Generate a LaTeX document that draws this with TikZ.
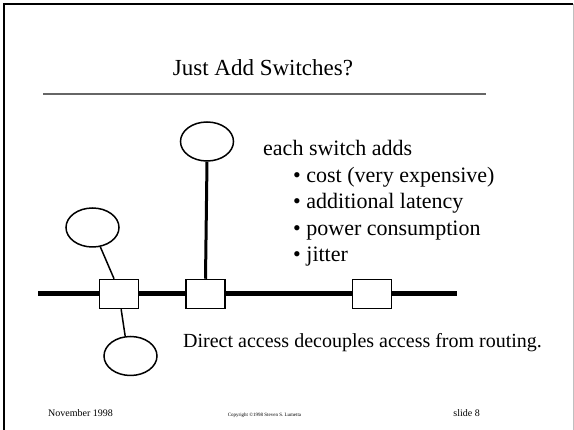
\documentclass[tikz,border=0pt]{standalone}
\usepackage{fontspec}
\setmainfont{Liberation Serif}
\usetikzlibrary{shapes.geometric}
\begin{document}
\begin{tikzpicture}[x=1pt,y=-1pt,
  host/.style={draw,ellipse,line width=1.5pt,minimum width=53pt,minimum height=39pt,inner sep=0pt},
  swbox/.style={draw,rectangle,line width=1.5pt,minimum width=39pt,minimum height=29pt,inner sep=0pt,fill=white},
  bus/.style={line width=5pt},
  txt/.style={anchor=base west,inner sep=0pt,font=\fontsize{22}{26}\selectfont}]
\useasboundingbox (0,0) rectangle (574,430);
% frame
\draw[line width=2pt] (4,431) -- (4,4) -- (573,4);
\draw[line width=1pt,gray!50] (573,4) -- (573,431);
% title
\node[anchor=base,inner sep=0pt,font=\fontsize{23}{27}\selectfont] (title) at (263,76) {Just Add Switches?};
\draw[line width=1.4pt,black!60] (43,94) -- (486,94);
% network
\coordinate (busL) at (38,294);
\coordinate (busR) at (457,294);
\node[swbox] (sw1) at (119,294) {};
\node[swbox] (sw2) at (205.5,294) {};
\node[swbox] (sw3) at (372,294) {};
\draw[bus] (busL) -- (sw1.west);
\draw[bus] (sw1.east) -- (sw2.west);
\draw[bus] (sw2.east) -- (sw3.west);
\draw[bus] (sw3.east) -- (busR);
\node[host] (e1) at (207,141.5) {};
\node[host] (e2) at (92.5,227.5) {};
\node[host] (e3) at (130.5,356) {};
\draw[line width=3pt] (e1.south) -- (sw2.north);
\draw[line width=1.5pt] (e2.-68) -- (sw1.108);
\draw[line width=1.5pt] (sw1.-82) -- (e3.105);
% text
\node[txt] (t0) at (263,156) {each switch adds};
\node[txt] (t1) at (293,182.5) {\textbullet\ cost (very expensive)};
\node[txt] (t2) at (293,209) {\textbullet\ additional latency};
\node[txt] (t3) at (293,235.5) {\textbullet\ power consumption};
\node[txt] (t4) at (293,262) {\textbullet\ jitter};
\node[anchor=base west,inner sep=0pt,font=\fontsize{20}{24}\selectfont] (direct) at (183,348) {Direct access decouples access from routing.};
% footer
\node[anchor=base west,inner sep=0pt,font=\fontsize{10}{12}\selectfont] (date) at (48,417) {November 1998};
\node[anchor=base,inner sep=0pt,font=\fontsize{5}{6}\selectfont] (copy) at (264.5,417) {Copyright \textcopyright1998 Steven S. Lumetta};
\node[anchor=base east,inner sep=0pt,font=\fontsize{10}{12}\selectfont] (slide) at (480,417) {slide 8};
\end{tikzpicture}
\end{document}
